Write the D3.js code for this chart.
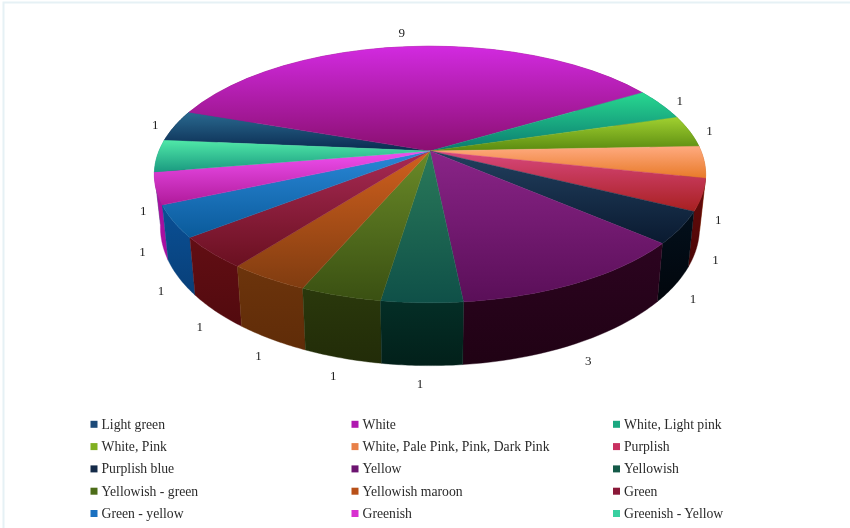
<!DOCTYPE html>
<html>
<head>
<meta charset="utf-8">
<script src="https://cdn.jsdelivr.net/npm/d3@7"></script>
<style>
html,body{margin:0;padding:0;background:#fff;overflow:hidden}
svg{display:block}
</style>
</head>
<body>
<svg id="chart" width="850" height="528"></svg>
<script>
const categories = ["Light green","White","White, Light pink","White, Pink","White, Pale Pink, Pink, Dark Pink","Purplish","Purplish blue","Yellow","Yellowish","Yellowish - green","Yellowish maroon","Green","Green - yellow","Greenish","Greenish - Yellow"];
const values = [1,9,1,1,1,1,1,3,1,1,1,1,1,1,1];
const topLight = ["#2a6a90","#d22ae0","#28d890","#a0d030","#ffaa80","#d8487e","#22405f","#8a2488","#2a7a5a","#6a8a28","#d0601e","#a82a55","#2a88d8","#f050f0","#50e8a8"];
const topDark = ["#0a2a50","#8a0f70","#0a7a70","#5a8a10","#e87a28","#a82020","#0a1a30","#5a0f58","#0f5048","#3a5012","#803c10","#6a1020","#0a5a9a","#b01a9a","#1a9a80"];
const sideLight = ["#0a2a50","#8a0f70","#0a7a70","#5a8a10","#c86a20","#6a0c0c","#03101c","#2c0420","#042e26","#2a380c","#6c340c","#620e14","#0a5096","#a810a0","#1a9a80"];
const sideDark = ["#0a2a50","#8a0f70","#0a7a70","#5a8a10","#c86a20","#4a0606","#02060c","#200214","#02201a","#222c08","#602c08","#520a0e","#083f78","#a810a0","#1a9a80"];
const legendColors = ["#1c4a78","#b018b0","#1aa880","#80b020","#e88048","#c83060","#142a48","#6c1470","#145a48","#4c6c18","#b85018","#8a1838","#1a70c0","#d830d0","#38d0a0"];

const svg = d3.select("#chart");
const defs = svg.append("defs");
const deg = Math.PI / 180;

svg.append("path").attr("d", "M3.5 528V2.5H850").attr("fill", "none").attr("stroke", "#e6f1f5").attr("stroke-width", 2);

const root = svg.append("g").style("filter", "blur(0.6px)");

const k = 0.183;
const px = d3.scaleLinear().domain([-1, 1]).range([430 - 271, 430 + 271]);
const py = d3.scaleLinear().domain([-1, 1]).range([151 - 124, 151 + 124]);
const topPt = t => {
  const X = Math.sin(t), Y = -Math.cos(t), w = 1 - k * Y;
  return [px(X / w), py(Y / w)];
};
const botPt = t => {
  const [x, y] = topPt(t);
  return [430 + 0.978 * (x - 430), 202 + 1.078 * (y - 151)];
};
const line = d3.line();
const pie = d3.pie().sort(null).startAngle(-85 * deg).endAngle(275 * deg).padAngle(0);
const slices = pie(values).map((s, i) => ({...s, i}));
const sample = (a, b) => d3.range(0, 25).map(j => a + (b - a) * j / 24);

function grad(id, c1, c2) {
  const g = defs.append("linearGradient").attr("id", id).attr("x1", 0).attr("y1", 0).attr("x2", 0).attr("y2", 1);
  g.append("stop").attr("offset", 0).attr("stop-color", c1);
  g.append("stop").attr("offset", 1).attr("stop-color", c2);
}
slices.forEach(s => {
  grad("t" + s.i, topLight[s.i], topDark[s.i]);
  grad("s" + s.i, sideLight[s.i], sideDark[s.i]);
});

// side wall, far slices first
const order = slices.slice().sort((a, b) =>
  Math.abs(Math.PI - (b.startAngle + b.endAngle) / 2) - Math.abs(Math.PI - (a.startAngle + a.endAngle) / 2));
root.append("g").selectAll("path").data(order).join("path")
  .attr("d", s => {
    const ts = sample(s.startAngle, s.endAngle);
    return line([...ts.map(topPt), ...ts.reverse().map(botPt)]) + "Z";
  })
  .attr("fill", s => `url(#s${s.i})`)
  .attr("stroke", s => `url(#s${s.i})`).attr("stroke-width", 0.4);

// top face
root.append("g").selectAll("path").data(slices).join("path")
  .attr("d", s => line([[px(0), py(0)], ...sample(s.startAngle, s.endAngle).map(topPt)]) + "Z")
  .attr("fill", s => `url(#t${s.i})`)
  .attr("stroke", s => `url(#t${s.i})`).attr("stroke-width", 0.4);

// value labels
const labelPos = s => {
  const m = (s.startAngle + s.endAngle) / 2, sn = Math.sin(m), cs = Math.cos(m);
  const dx = 20 * Math.sign(sn) * Math.pow(Math.abs(sn), 0.6);
  if (cs > 0) {
    const [x, y] = topPt(m);
    return [x + dx, y - 14 * Math.pow(cs, 1.5)];
  }
  const [x, y] = botPt(m);
  return [x + dx, y + 18 * Math.sqrt(-cs)];
};
root.append("g").selectAll("text").data(slices).join("text")
  .attr("x", s => labelPos(s)[0]).attr("y", s => labelPos(s)[1])
  .attr("text-anchor", "middle").attr("dominant-baseline", "central")
  .attr("font-family", "Liberation Serif").attr("font-size", 13).attr("fill", "#222")
  .text(s => s.value);

// legend
const colX = d3.scaleOrdinal().domain([0, 1, 2]).range([90.5, 351.5, 613]);
const rowY = d3.scalePoint().domain(d3.range(5)).range([424.3, 513.5]);
const lg = root.append("g").selectAll("g").data(categories).join("g")
  .attr("transform", (d, i) => `translate(${colX(i % 3)},${rowY(Math.floor(i / 3))})`);
lg.append("rect").attr("x", 0).attr("y", -3.5).attr("width", 7).attr("height", 7)
  .attr("fill", (d, i) => legendColors[i]);
lg.append("text").attr("x", 11).attr("dominant-baseline", "central")
  .attr("font-family", "Liberation Serif").attr("font-size", 13.7).attr("fill", "#2a2a2a")
  .text(d => d);
</script>
</body>
</html>
